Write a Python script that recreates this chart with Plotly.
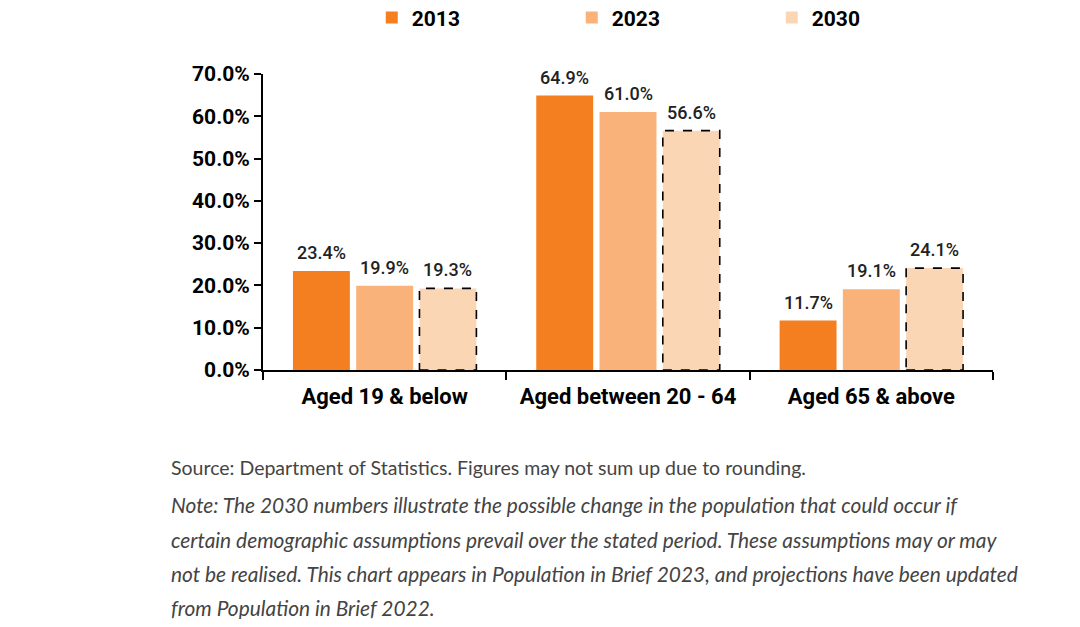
import plotly.graph_objects as go

# datos
categorias = ["Aged 19 & below", "Aged between 20 - 64", "Aged 65 & above"]
anios = ["2013", "2023", "2030"]
valores_2013 = [23.4, 64.9, 11.7]
valores_2023 = [19.9, 61.0, 19.1]
valores_2030 = [19.3, 56.6, 24.1]
colores = ["#F47F20", "#F9B27A", "#FAD6B5"]

nota = [
    "Source: Department of Statistics. Figures may not sum up due to rounding.",
    "<i>Note: The 2030 numbers illustrate the possible change in the population that could occur if</i>",
    "<i>certain demographic assumptions prevail over the stated period. These assumptions may or may</i>",
    "<i>not be realised. This chart appears in Population in Brief 2023, and projections have been updated</i>",
    "<i>from Population in Brief 2022.</i>",
]

bargap = 0.22
bargroupgap = 0.1
slot = (1 - bargap) / 3
ancho = slot * (1 - bargroupgap)

fig = go.Figure()
for k, (anio, vals, col) in enumerate(zip(anios, [valores_2013, valores_2023, valores_2030], colores)):
    fig.add_trace(go.Bar(
        x=categorias, y=vals, name=anio,
        marker=dict(color=col, line=dict(width=0)),
    ))
    # etiquetas encima de cada barra
    for i, v in enumerate(vals):
        centro = i - (1 - bargap) / 2 + slot * (k + 0.5)
        fig.add_annotation(x=centro, y=v, xref="x", yref="y", text=f"{v:.1f}%",
                           showarrow=False, yanchor="bottom", yshift=6,
                           font=dict(family="Roboto", size=18, color="#222222", weight=500))

# borde discontinuo para las barras de 2030 (proyeccion)
for i, v in enumerate(valores_2030):
    centro = i - (1 - bargap) / 2 + slot * 2.5
    fig.add_shape(type="rect", xref="x", yref="y",
                  x0=centro - ancho / 2, x1=centro + ancho / 2, y0=0, y1=v,
                  line=dict(color="black", width=1.6, dash="dash"), layer="above")

# lineas de la nota al pie
ys = [-0.331, -0.453, -0.571, -0.686, -0.801]
for j, (t, y) in enumerate(zip(nota, ys)):
    fig.add_annotation(text=t, xref="paper", yref="paper", x=-0.129, y=y,
                       xanchor="left", yanchor="middle", showarrow=False,
                       font=dict(family="Lato", size=19.5 if j == 0 else 20.9, color="#444444"))

# la pagina tiene 8px de margen en el body
fig.update_layout(
    width=1064, height=611,
    margin=dict(l=255, r=79, t=66, b=249, autoexpand=False),
    barmode="group", bargap=bargap, bargroupgap=bargroupgap,
    plot_bgcolor="white", paper_bgcolor="white",
    font=dict(family="Roboto", color="black"),
    legend=dict(orientation="h", x=0.149, y=1.19, xanchor="left", yanchor="middle",
                entrywidth=155, font=dict(family="Roboto", size=21, color="black", weight="bold")),
    showlegend=True,
)
fig.update_xaxes(type="category", showline=True, linecolor="black", linewidth=2,
                 ticks="outside", tickson="boundaries", ticklen=8, tickwidth=2, tickcolor="black",
                 tickfont=dict(family="Roboto", size=22, color="black", weight="bold"),
                 ticklabelstandoff=6, showgrid=False)
fig.update_yaxes(range=[0, 70], dtick=10, tickformat=".1f", ticksuffix="%",
                 showline=True, linecolor="black", linewidth=2,
                 ticks="outside", ticklen=7, tickwidth=2, tickcolor="black",
                 tickfont=dict(family="Roboto", size=21, color="black", weight="bold"),
                 showgrid=False, zeroline=False)

fig.write_html("out.html")
